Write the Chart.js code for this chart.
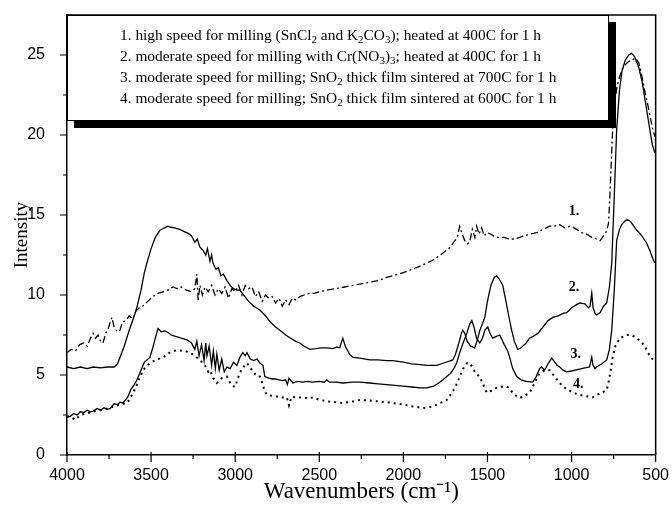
<!DOCTYPE html>
<html>
<head>
<meta charset="utf-8">
<script src="https://cdn.jsdelivr.net/npm/chart.js@4.4.0/dist/chart.umd.min.js"></script>
<style>
    html, body { margin: 0; padding: 0; background: #fff; }
</style>
</head>
<body>
<canvas id="irChart" width="672" height="509"></canvas>
<script>
// curve 1 (dash-dot)
const wn1 = [4000, 3975, 3950, 3925, 3900, 3880, 3860, 3845, 3830, 3815,
    3800, 3786, 3770, 3755, 3740, 3733, 3720, 3700, 3685, 3670,
    3650, 3630, 3610, 3590, 3570, 3550, 3520, 3490, 3460, 3430,
    3400, 3370, 3346, 3320, 3290, 3260, 3240, 3228, 3220, 3210,
    3195, 3180, 3160, 3140, 3120, 3100, 3080, 3060, 3040, 3020,
    3000, 2980, 2960, 2940, 2920, 2900, 2880, 2860, 2840, 2820,
    2800, 2780, 2760, 2740, 2720, 2700, 2680, 2660, 2640, 2616,
    2590, 2560, 2530, 2500, 2455, 2400, 2350, 2300, 2250, 2200,
    2150, 2100, 2063, 2000, 1950, 1900, 1861, 1820, 1780, 1742,
    1720, 1700, 1680, 1665, 1650, 1635, 1620, 1606, 1590, 1575,
    1564, 1550, 1535, 1520, 1504, 1480, 1450, 1427, 1400, 1370,
    1340, 1309, 1280, 1250, 1207, 1170, 1130, 1100, 1071, 1040,
    1010, 994, 970, 940, 910, 880, 851, 830, 810, 791,
    780, 773, 765, 756, 745, 730, 715, 700, 680, 660,
    640, 620, 600, 590, 575, 560, 545, 530, 515, 505];
const int1 = [6.4, 6.6, 6.5, 6.9, 7.0, 6.8, 7.3, 7.6, 7.3, 7.5,
    7.1, 7.0, 7.6, 7.9, 8.4, 8.6, 8.0, 7.7, 7.8, 8.3,
    8.4, 8.7, 8.5, 9.0, 9.2, 9.3, 9.6, 9.9, 10.1, 10.2,
    10.3, 10.5, 10.4, 10.5, 10.3, 10.2, 10.4, 11.3, 9.6, 10.6,
    10.0, 10.5, 10.2, 10.6, 10.0, 10.4, 10.1, 10.5, 9.8, 10.4,
    10.2, 10.6, 10.0, 10.6, 10.4, 10.5, 9.9, 10.2, 9.6, 10.0,
    9.8, 9.9, 9.5, 9.8, 9.3, 9.7, 9.4, 9.8, 9.7, 9.9,
    10.0, 10.1, 10.1, 10.2, 10.3, 10.4, 10.5, 10.6, 10.7, 10.8,
    10.9, 11.1, 11.2, 11.4, 11.6, 11.8, 12.0, 12.2, 12.5, 12.8,
    13.0, 13.3, 13.6, 14.3, 13.8, 13.4, 13.2, 13.3, 14.1, 13.6,
    14.3, 13.8, 14.2, 13.7, 13.9, 13.8, 13.6, 13.6, 13.6, 13.5,
    13.5, 13.6, 13.7, 13.8, 13.9, 14.1, 14.3, 14.3, 14.4, 14.2,
    14.3, 14.25, 14.1, 13.9, 13.8, 13.6, 13.5, 13.4, 13.7, 14.0,
    14.5, 16.0, 18.0, 20.3, 22.0, 23.0, 23.6, 24.1, 24.4, 24.6,
    24.7, 24.8, 24.5, 24.1, 23.3, 22.5, 21.8, 21.0, 20.3, 19.9];

// curve 2 (solid, upper)
const wn2 = [4000, 3960, 3920, 3880, 3845, 3800, 3760, 3720, 3700, 3685,
    3660, 3630, 3600, 3584, 3560, 3540, 3525, 3500, 3475, 3447,
    3420, 3400, 3388, 3360, 3330, 3300, 3287, 3260, 3240, 3225,
    3210, 3192, 3175, 3165, 3150, 3140, 3132, 3115, 3100, 3085,
    3070, 3049, 3030, 3010, 2990, 2972, 2950, 2920, 2890, 2853,
    2820, 2790, 2760, 2734, 2700, 2670, 2640, 2616, 2590, 2556,
    2520, 2490, 2455, 2420, 2395, 2378, 2370, 2360, 2345, 2320,
    2300, 2259, 2200, 2150, 2100, 2063, 2000, 1950, 1900, 1861,
    1802, 1760, 1730, 1706, 1690, 1670, 1655, 1647, 1635, 1620,
    1600, 1576, 1560, 1545, 1530, 1516, 1500, 1480, 1460, 1445,
    1430, 1409, 1390, 1370, 1356, 1340, 1320, 1300, 1270, 1250,
    1231, 1200, 1170, 1140, 1112, 1080, 1050, 1029, 1000, 970,
    952, 920, 900, 890, 880, 872, 860, 851, 830, 810,
    791, 775, 761, 745, 732, 715, 700, 680, 660, 643,
    625, 600, 580, 560, 540, 520, 505];
const int2 = [5.5, 5.4, 5.5, 5.4, 5.5, 5.45, 5.5, 5.5, 5.7, 6.1,
    6.8, 7.8, 8.7, 9.25, 10.3, 11.4, 12.0, 12.9, 13.6, 14.05,
    14.2, 14.3, 14.25, 14.2, 14.1, 13.95, 13.9, 13.7, 13.3, 13.5,
    13.0, 12.8, 12.5, 12.9, 12.1, 12.5, 12.0, 11.6, 11.7, 11.2,
    11.3, 10.9, 10.6, 10.4, 10.3, 10.3, 10.0, 9.6, 9.3, 9.06,
    8.7, 8.3, 8.0, 7.8, 7.5, 7.3, 7.1, 7.0, 6.8, 6.6,
    6.65, 6.7, 6.7, 6.65, 6.75, 6.7, 7.0, 7.3, 6.8, 6.3,
    6.1, 6.06, 5.95, 5.95, 5.9, 5.9, 5.8, 5.7, 5.65, 5.6,
    5.6, 5.75, 5.85, 5.94, 6.3, 7.0, 7.6, 7.8, 7.6, 7.1,
    6.8, 6.7, 7.2, 7.8, 8.2, 8.6, 9.6, 10.6, 11.1, 11.2,
    11.0, 10.6, 9.6, 8.5, 7.8, 7.1, 6.6, 6.7, 7.0, 7.3,
    7.4, 7.6, 8.0, 8.4, 8.6, 8.7, 8.85, 8.9, 9.2, 9.4,
    9.5, 9.45, 9.2, 9.3, 10.1, 9.2, 8.85, 8.75, 8.9, 9.3,
    9.5, 10.5, 12.0, 16.5, 20.3, 22.8, 24.0, 24.7, 25.0, 25.1,
    24.9, 24.2, 23.3, 22.0, 20.7, 19.4, 18.9];

// curve 3 (solid, lower)
const wn3 = [4000, 3982, 3960, 3940, 3920, 3900, 3880, 3860, 3845, 3820,
    3800, 3780, 3760, 3745, 3720, 3700, 3685, 3667, 3640, 3620,
    3600, 3584, 3560, 3540, 3507, 3490, 3475, 3459, 3440, 3420,
    3406, 3380, 3350, 3320, 3287, 3260, 3240, 3228, 3215, 3200,
    3185, 3175, 3168, 3155, 3140, 3130, 3118, 3109, 3095, 3080,
    3065, 3049, 3030, 3010, 2990, 2972, 2955, 2940, 2930, 2910,
    2890, 2870, 2853, 2835, 2824, 2800, 2780, 2760, 2740, 2720,
    2700, 2690, 2680, 2657, 2630, 2600, 2570, 2540, 2500, 2470,
    2455, 2440, 2400, 2360, 2300, 2259, 2200, 2150, 2100, 2050,
    2000, 1950, 1900, 1861, 1820, 1790, 1765, 1742, 1720, 1700,
    1683, 1665, 1645, 1623, 1605, 1593, 1580, 1565, 1546, 1530,
    1515, 1498, 1485, 1469, 1450, 1427, 1400, 1380, 1368, 1350,
    1326, 1300, 1270, 1231, 1210, 1190, 1178, 1160, 1140, 1118,
    1100, 1085, 1071, 1050, 1029, 1000, 960, 920, 893, 880,
    872, 860, 851, 820, 791, 775, 761, 745, 732, 715,
    702, 680, 667, 650, 630, 613, 590, 570, 554, 535,
    518, 505];
const int3 = [2.4, 2.4, 2.6, 2.5, 2.7, 2.65, 2.8, 2.7, 2.75, 2.9,
    2.8, 2.95, 2.85, 2.9, 3.2, 3.15, 3.3, 3.25, 3.6, 4.1,
    4.4, 4.7, 5.3, 5.8, 6.1, 6.7, 7.3, 7.9, 7.7, 7.75,
    7.7, 7.5, 7.4, 7.3, 7.2, 7.0, 6.6, 7.1, 6.2, 6.9,
    5.9, 7.0, 6.2, 6.8, 5.6, 6.5, 5.4, 6.3, 5.3, 6.0,
    5.2, 5.5, 5.4, 5.8, 5.6, 6.1, 6.4, 6.2, 6.4, 6.0,
    5.9, 6.0, 5.75, 5.6, 4.9, 4.8, 4.75, 4.75, 4.7, 4.65,
    4.7, 4.4, 4.8, 4.5, 4.6, 4.55, 4.6, 4.55, 4.6, 4.55,
    4.7, 4.55, 4.55, 4.5, 4.55, 4.56, 4.5, 4.45, 4.4, 4.35,
    4.3, 4.25, 4.2, 4.2, 4.3, 4.5, 4.7, 4.9, 5.1, 5.4,
    5.75, 6.4, 7.0, 7.6, 8.2, 8.4, 8.0, 7.3, 7.0, 7.3,
    7.8, 8.0, 7.6, 7.3, 7.4, 7.5, 6.9, 6.5, 6.1, 5.4,
    4.9, 4.7, 4.6, 4.56, 4.9, 5.4, 5.5, 5.3, 5.7, 6.06,
    5.8, 5.6, 5.5, 5.3, 5.2, 5.25, 5.35, 5.45, 5.5, 6.1,
    5.6, 5.4, 5.5, 5.7, 5.94, 6.6, 7.8, 10.5, 13.4, 14.1,
    14.4, 14.65, 14.7, 14.6, 14.3, 14.06, 13.8, 13.5, 13.25, 12.8,
    12.3, 12.0];

// curve 4 (dotted)
const wn4 = [4000, 3982, 3952, 3920, 3880, 3850, 3804, 3760, 3720, 3680,
    3643, 3610, 3585, 3566, 3540, 3507, 3470, 3430, 3390, 3346,
    3300, 3269, 3240, 3209, 3180, 3160, 3150, 3130, 3109, 3080,
    3049, 3025, 3002, 2980, 2960, 2930, 2900, 2870, 2853, 2830,
    2812, 2780, 2750, 2720, 2693, 2680, 2665, 2640, 2600, 2570,
    2538, 2500, 2450, 2400, 2360, 2300, 2259, 2200, 2150, 2100,
    2063, 2000, 1950, 1885, 1840, 1800, 1770, 1742, 1710, 1685,
    1665, 1640, 1620, 1606, 1590, 1570, 1546, 1525, 1504, 1480,
    1460, 1427, 1400, 1380, 1350, 1330, 1309, 1280, 1249, 1220,
    1190, 1160, 1130, 1100, 1071, 1040, 994, 950, 900, 874,
    840, 810, 791, 775, 756, 740, 714, 690, 670, 643,
    620, 600, 583, 560, 540, 524, 510];
const int4 = [2.4, 2.4, 2.2, 2.5, 2.6, 2.7, 2.8, 2.9, 3.05, 3.15,
    3.25, 3.8, 4.4, 4.9, 5.4, 5.75, 5.95, 6.1, 6.4, 6.56,
    6.5, 6.4, 6.2, 5.94, 5.6, 5.2, 5.3, 4.8, 4.5, 4.8,
    4.9, 4.4, 4.25, 4.9, 5.4, 5.75, 5.3, 4.9, 4.9, 4.2,
    3.75, 3.7, 3.65, 3.6, 3.6, 3.1, 3.65, 3.6, 3.6, 3.55,
    3.6, 3.45, 3.35, 3.3, 3.25, 3.35, 3.44, 3.4, 3.35, 3.3,
    3.25, 3.15, 3.05, 2.94, 3.0, 3.15, 3.3, 3.44, 3.9, 4.4,
    4.9, 5.5, 5.75, 5.75, 5.5, 5.1, 4.9, 4.4, 3.9, 4.0,
    4.15, 4.25, 4.3, 4.25, 3.9, 3.7, 3.56, 3.7, 3.9, 4.5,
    5.1, 5.3, 5.3, 4.9, 4.5, 4.2, 3.9, 3.75, 3.65, 3.6,
    3.8, 3.95, 4.06, 4.8, 6.1, 6.8, 7.3, 7.4, 7.5, 7.5,
    7.35, 7.2, 7.06, 6.7, 6.3, 6.06, 5.9];

// legend text; "_x" = subscript x
const legendLines = [
    '1. high speed for milling (SnCl_2 and K_2CO_3); heated at 400C for 1 h',
    '2. moderate speed for milling with Cr(NO_3)_3; heated at 400C for 1 h',
    '3. moderate speed for milling; SnO_2 thick film sintered at 700C for 1 h',
    '4. moderate speed for milling; SnO_2 thick film sintered at 600C for 1 h'
];
const curveNames = ['1.', '2.', '3.', '4.'];
const nameWn = [985, 985, 975, 960];
const nameInt = [15.2, 10.5, 6.3, 4.4];

const xMajor = [4000, 3500, 3000, 2500, 2000, 1500, 1000, 500];
const xMinor = [3750, 3250, 2750, 2250, 1750, 1250, 750];
const yMajor = [0, 5, 10, 15, 20, 25];
const yMinor = [2.5, 7.5, 12.5, 17.5, 22.5];

const serif = '"Liberation Serif", "Times New Roman", serif';
const sans = '"Liberation Sans", Arial, sans-serif';

function pairs(xs, ys) {
    return xs.map((v, i) => ({ x: v, y: ys[i] }));
}

function richText(ctx, str, x, y) {
    let cx = x;
    for (let i = 0; i < str.length; i++) {
        const ch = str[i];
        if (ch === '_') {
            const sub = str[i + 1];
            ctx.font = '11px ' + serif;
            ctx.fillText(sub, cx, y + 4);
            cx += ctx.measureText(sub).width;
            i++;
        } else {
            ctx.font = '15.4px ' + serif;
            ctx.fillText(ch, cx, y);
            cx += ctx.measureText(ch).width;
        }
    }
}

const extras = {
    id: 'extras',
    afterDraw(chart) {
        const ctx = chart.ctx;
        const a = chart.chartArea;
        const x = chart.scales.x;
        const y = chart.scales.y;
        ctx.save();
        ctx.strokeStyle = '#000';
        ctx.fillStyle = '#000';

        // frame top and right
        ctx.lineWidth = 1.5;
        ctx.beginPath();
        ctx.moveTo(a.left, a.top);
        ctx.lineTo(a.right, a.top);
        ctx.lineTo(a.right, a.bottom);
        ctx.stroke();

        // tick marks
        ctx.lineWidth = 1.2;
        ctx.beginPath();
        xMajor.forEach(v => {
            const px = x.getPixelForValue(v);
            ctx.moveTo(px, a.bottom - 3);
            ctx.lineTo(px, a.bottom + 7);
        });
        xMinor.forEach(v => {
            const px = x.getPixelForValue(v);
            ctx.moveTo(px, a.bottom);
            ctx.lineTo(px, a.bottom + 4);
        });
        yMajor.forEach(v => {
            const py = y.getPixelForValue(v);
            ctx.moveTo(a.left - 7, py);
            ctx.lineTo(a.left, py);
        });
        yMinor.forEach(v => {
            const py = y.getPixelForValue(v);
            ctx.moveTo(a.left - 4, py);
            ctx.lineTo(a.left, py);
        });
        ctx.stroke();

        // legend box with heavy shadow
        const bx = a.left, by = a.top, bw = 542, bh = 106;
        ctx.fillRect(bx + 7, by + 7, bw, bh);
        ctx.fillStyle = '#fff';
        ctx.fillRect(bx, by, bw, bh);
        ctx.lineWidth = 1;
        ctx.strokeRect(bx + 0.5, by + 0.5, bw - 1, bh - 1);
        ctx.fillStyle = '#000';
        ctx.textBaseline = 'middle';
        ctx.textAlign = 'left';
        legendLines.forEach((s, i) => richText(ctx, s, 120, by + 21 + i * 21));

        // curve numbers
        ctx.font = 'bold 14px ' + serif;
        ctx.textAlign = 'center';
        curveNames.forEach((s, i) => {
            ctx.fillText(s, x.getPixelForValue(nameWn[i]), y.getPixelForValue(nameInt[i]));
        });
        ctx.restore();
    }
};

const lineStyle = { borderColor: '#000', borderWidth: 1.3, pointRadius: 0, tension: 0, fill: false };

new Chart(document.getElementById('irChart'), {
    type: 'line',
    data: {
        datasets: [
            Object.assign({ label: '1', data: pairs(wn1, int1), borderDash: [7, 3, 2, 3] }, lineStyle),
            Object.assign({ label: '2', data: pairs(wn2, int2) }, lineStyle),
            Object.assign({ label: '3', data: pairs(wn3, int3) }, lineStyle),
            Object.assign({ label: '4', data: pairs(wn4, int4), borderDash: [2, 4] }, lineStyle, { borderWidth: 2 })
        ]
    },
    options: {
        responsive: false,
        animation: false,
        layout: { padding: { top: 15, right: 16, left: 0, bottom: 0 } },
        plugins: {
            legend: { display: false },
            tooltip: { enabled: false }
        },
        scales: {
            x: {
                type: 'linear',
                reverse: true,
                min: 500,
                max: 4000,
                grid: { display: false },
                border: { display: true, color: '#000', width: 1.5 },
                ticks: {
                    stepSize: 500,
                    padding: 3,
                    color: '#000',
                    maxRotation: 0,
                    font: { family: sans, size: 16 },
                    callback: v => (v % 500 === 0 ? String(v) : '')
                },
                title: {
                    display: true,
                    text: 'Wavenumbers (cm⁻¹)',
                    color: '#000',
                    font: { family: serif, size: 23 },
                    padding: { top: 0, bottom: 3 }
                },
                afterFit: s => { s.height = 54; }
            },
            y: {
                min: 0,
                max: 27.5,
                grid: { display: false },
                border: { display: true, color: '#000', width: 1.5 },
                ticks: {
                    stepSize: 5,
                    padding: 14,
                    color: '#000',
                    font: { family: sans, size: 16 },
                    callback: v => (v % 5 === 0 ? String(v) : '')
                },
                title: {
                    display: true,
                    text: 'Intensity',
                    color: '#000',
                    font: { family: serif, size: 19 },
                    padding: { top: 11, bottom: 0 }
                },
                afterFit: s => {
                    s.width = 67;
                    s.paddingTop = 0;
                    s.paddingBottom = 0;
                }
            }
        }
    },
    plugins: [extras]
});
</script>
</body>
</html>
